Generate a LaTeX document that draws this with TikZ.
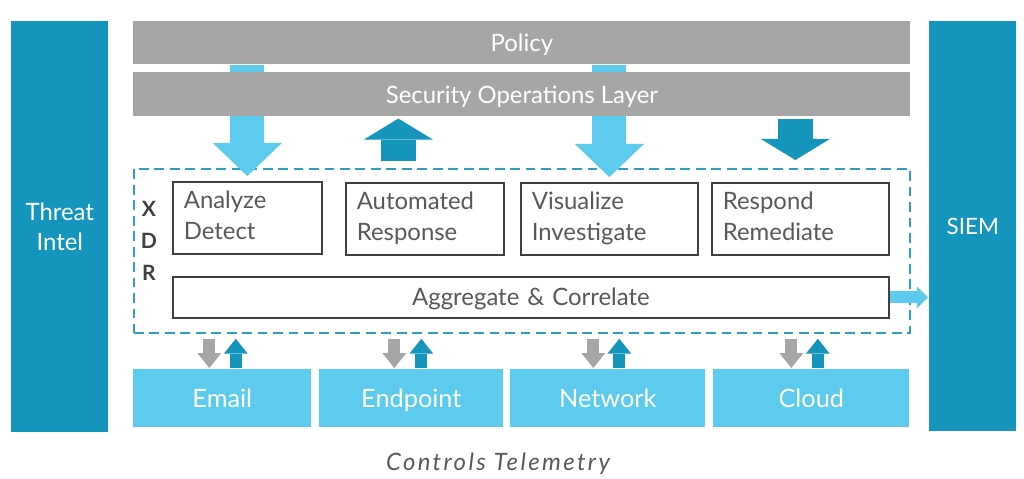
\documentclass[tikz,border=0pt]{standalone}
\usepackage{fontspec}
\setmainfont{Lato}
\newfontfamily\telefont{Lato}[LetterSpace=10]
\usepackage{xcolor}
\usetikzlibrary{arrows.meta, calc, positioning}

\definecolor{xdrdark}{HTML}{1595BC}
\definecolor{xdrlight}{HTML}{5CCBED}
\definecolor{xdrgrey}{HTML}{A6A6A6}
\definecolor{boxline}{HTML}{404040}
\definecolor{boxtext}{HTML}{595959}
\definecolor{dashblue}{HTML}{2E9EC4}

\pgfdeclarelayer{front}
\pgfsetlayers{main,front}

\begin{document}
\begin{tikzpicture}[x=0.025cm, y=-0.025cm,
  bar/.style={fill=xdrdark, text=white, align=center, anchor=north west, inner sep=0pt},
  layer/.style={fill=xdrgrey, text=white, font=\fontsize{17}{20}\selectfont, text height=13pt, text depth=0pt, anchor=north west, inner sep=0pt, minimum width=19.425cm},
  xdrbox/.style={draw=dashblue, line width=1.2pt, dash pattern=on 7pt off 4pt, anchor=north west, inner sep=0pt, minimum width=19.4cm, minimum height=4.1cm},
  fn/.style={draw=boxline, line width=1.2pt, text=boxtext, font=\fontsize{17}{22}\selectfont, align=left, anchor=north west, inner xsep=0.275cm, minimum height=1.8cm, execute at begin node=\strut, execute at end node=\strut},
  src/.style={fill=xdrlight, text=white, font=\fontsize{18}{20}\selectfont, text height=13pt, text depth=0pt, anchor=north west, inner sep=0pt, minimum height=1.45cm},
  bigdown/.style={xdrlight, line width=0.85cm, -{Triangle[width=1.725cm, length=0.825cm, line width=0pt]}},
  darkarrow/.style={xdrdark, line width=0.875cm, -{Triangle[width=1.725cm, length=0.525cm, line width=0pt]}},
  sidearrow/.style={xdrlight, line width=0.3cm, -{Triangle[width=0.55cm, length=0.275cm, line width=0pt]}},
  smalldown/.style={xdrgrey, line width=0.3cm, -{Triangle[width=0.6cm, length=0.375cm, line width=0pt]}, shorten <=0.125cm, shorten >=0.025cm},
  smallup/.style={xdrdark, line width=0.3cm, -{Triangle[width=0.6cm, length=0.375cm, line width=0pt]}, shorten <=0.025cm, shorten >=0.125cm}]

\fill[white] (0,0) rectangle (1024,479);
\useasboundingbox (0,0) rectangle (1024,479);

% side bars
\node[bar, minimum width=2.425cm, minimum height=10.275cm, font=\fontsize{17}{21}\selectfont] (ti) at (11,21) {Threat\\Intel};
\node[bar, minimum width=2.175cm, minimum height=10.25cm, font=\fontsize{16}{20}\selectfont] (siem) at (929,21) {SIEM};

% top layers
\begin{pgfonlayer}{front}
\node[layer, minimum height=1.075cm] (pol) at (133,21) {Policy};
\node[layer, minimum height=1.1cm] (sol) at (133,72) {Security Operations Layer};
\end{pgfonlayer}

% XDR block
\node[xdrbox] (xdr) at (133,168) {};
\node[text=boxline, font=\bfseries\fontsize{15}{22.7}\selectfont, align=center] (lbl) at (149,241) {X\\D\\R};
\node[fn, text width=3.175cm] (ad) at (172,181) {Analyze\\Detect};
\node[fn, text width=3.4cm] (ar) at (345,182) {Automated\\Response};
\node[fn, text width=3.875cm] (vi) at (520,182) {Visualize\\Investigate};
\node[fn, text width=3.875cm] (rr) at (711,182) {Respond\\Remediate};
\node[fn, text width=17.35cm, align=center, minimum height=1.025cm, execute at begin node=, execute at end node=, text height=12pt, text depth=0pt] (ag) at (172,276) {Aggregate \& Correlate};

% sources
\node[src, minimum width=4.45cm] (em) at (133,369) {Email};
\node[src, minimum width=4.6cm] (ep) at (319,369) {Endpoint};
\node[src, minimum width=4.875cm] (nw) at (510,369) {Network};
\node[src, minimum width=4.9cm] (cl) at (713,369) {Cloud};

\node[text=boxtext, font=\telefont\itshape\fontsize{17}{20}\selectfont] (ct) at (498,464) {Controls Telemetry};

% arrows
\draw[bigdown, shorten >=0.125cm] (pol.south -| ad.north) -- (ad.north);
\draw[bigdown, shorten >=0.125cm] (pol.south -| vi.north) -- (vi.north);
\draw[darkarrow, shorten <=0.525cm, shorten >=0.05cm] ([xshift=-0.6625cm]ar.north) -- ([xshift=-0.6625cm]ar.north |- sol.south);
\draw[darkarrow, shorten <=0.05cm, shorten >=0.55cm] ([xshift=-0.125cm]rr.north |- sol.south) -- ([xshift=-0.125cm]rr.north);
\draw[sidearrow, shorten >=0.025cm] (ag.east) -- (siem.west |- ag.east);
\foreach \s/\g/\b in {em/-13/13.5, ep/-17/10, nw/-14.5/11.5, cl/-20/6.5} {
  \draw[smalldown] ([xshift=\g*0.025cm]\s.north |- xdr.south) -- ([xshift=\g*0.025cm]\s.north);
  \draw[smallup] ([xshift=\b*0.025cm]\s.north) -- ([xshift=\b*0.025cm]\s.north |- xdr.south);
}
\end{tikzpicture}
\end{document}
